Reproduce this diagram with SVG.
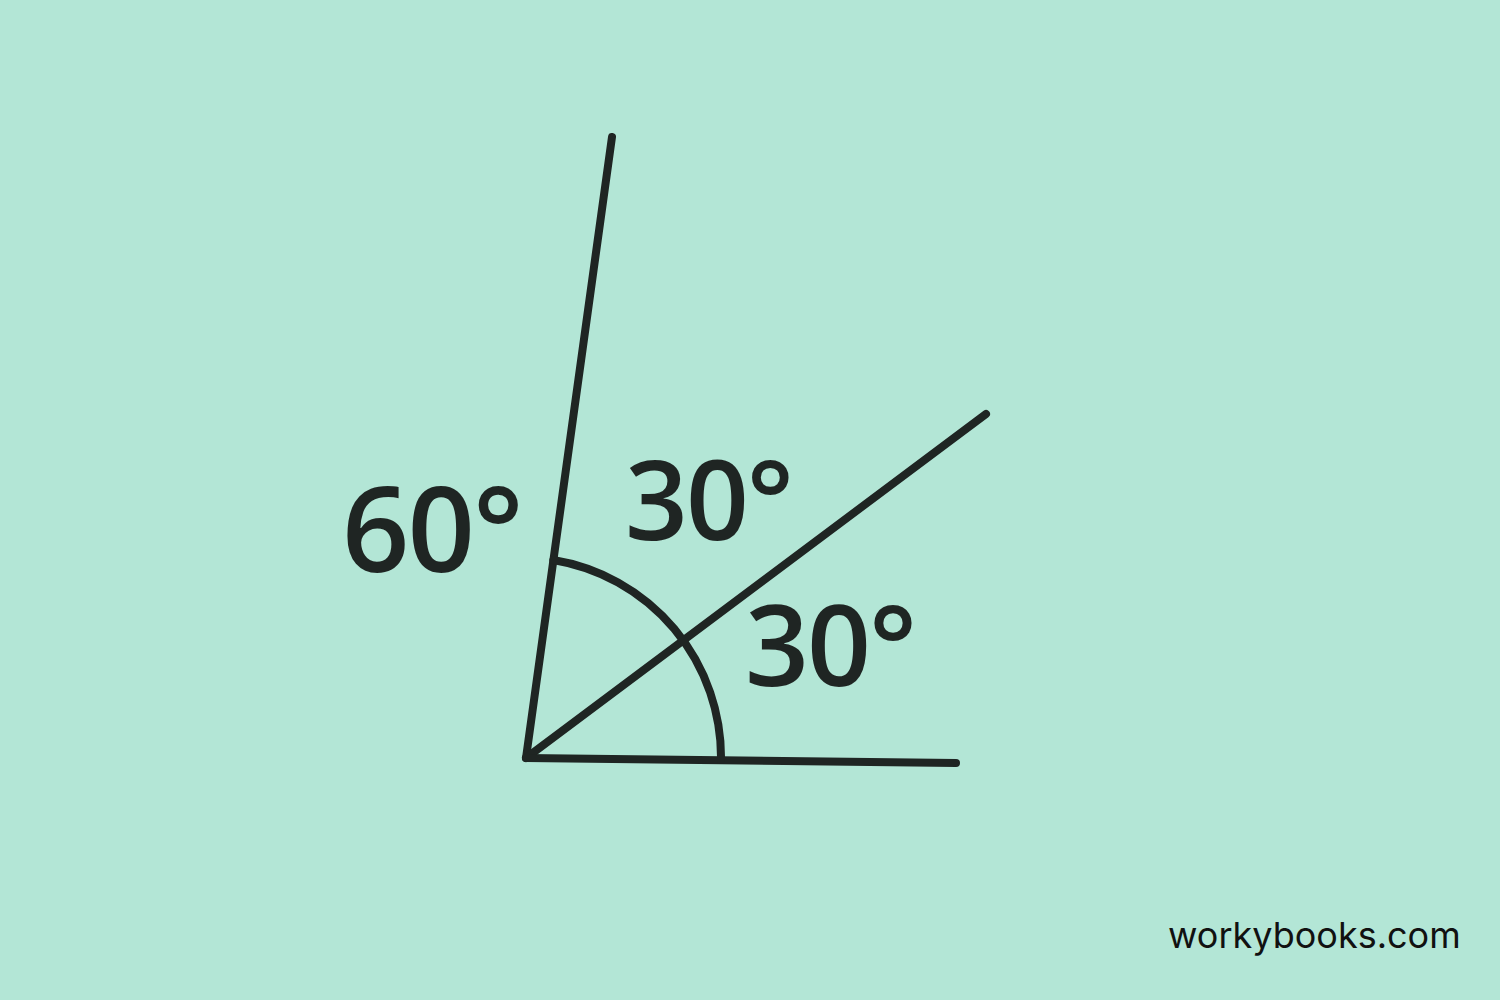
<svg xmlns="http://www.w3.org/2000/svg" width="1500" height="1000" viewBox="0 0 1500 1000">
<style>
.ln{stroke:#1f2523;stroke-width:8;stroke-linecap:round;fill:none}
.lbl{font-family:"Open Sans","Noto Sans",sans-serif;font-weight:600;fill:#1f2523}
</style>
<rect width="1500" height="1000" fill="#b3e6d6"/>
<g id="connectors">
<line class="ln" x1="526" y1="758" x2="612" y2="137"/>
<line class="ln" x1="526" y1="758" x2="986" y2="414"/>
<line class="ln" x1="526" y1="758" x2="956" y2="763"/>
<path class="ln" d="M553.4,560 A200,200 0 0 1 721,760"/>
</g>
<g id="label-60"><text class="lbl" x="342" y="572" font-size="118" letter-spacing="-2">60°</text></g>
<g id="label-30-top"><text class="lbl" x="625" y="540" font-size="110" letter-spacing="-2">30°</text></g>
<g id="label-30-bottom"><text class="lbl" x="745" y="686" font-size="112" letter-spacing="-2">30°</text></g>
<g id="watermark"><text x="1168" y="948" font-family="Inter,'Open Sans',sans-serif" font-size="36" fill="#111">workybooks.com</text></g>
</svg>
